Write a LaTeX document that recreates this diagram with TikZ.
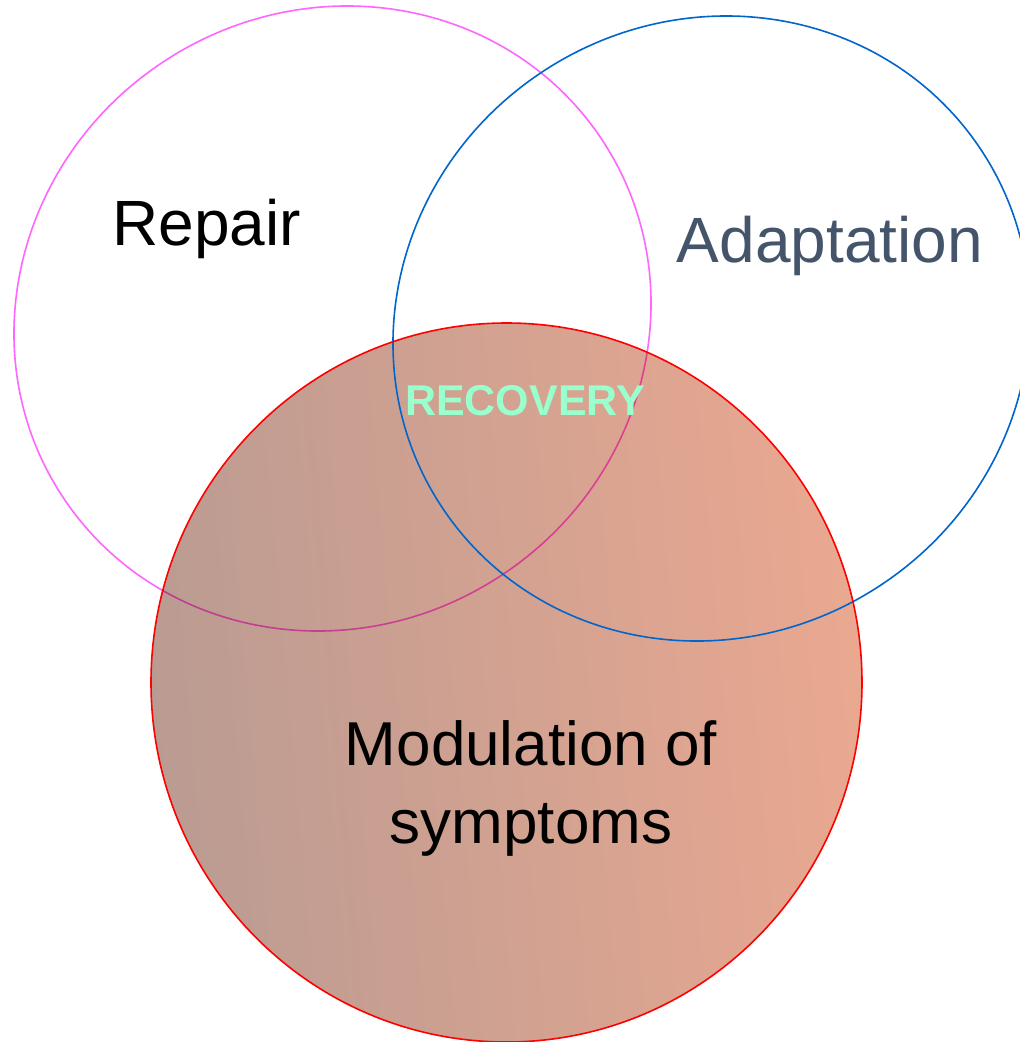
\documentclass[tikz,border=0pt]{standalone}
\usepackage{fontspec}
\setmainfont{Liberation Sans}
\definecolor{ringpink}{RGB}{255,102,255}
\definecolor{ringblue}{RGB}{0,102,204}
\definecolor{ringred}{RGB}{255,0,0}
\definecolor{fillleft}{RGB}{186,155,146}
\definecolor{fillright}{RGB}{234,168,144}
\definecolor{slate}{RGB}{68,84,106}
\definecolor{mint}{RGB}{153,255,204}
\tikzset{
  ring/.style={line width=1.6pt},
  tilted/.style={x radius=323.4pt, y radius=307.4pt},
  bigword/.style={font=\fontsize{64}{74}\selectfont, anchor=base, inner sep=0pt},
  midword/.style={font=\fontsize{62}{70}\selectfont, anchor=base, inner sep=0pt},
}
\begin{document}
\begin{tikzpicture}[x=1pt,y=-1pt]
  \useasboundingbox (0,0) rectangle (1020,1042);
  \fill[white] (0,0) rectangle (1020,1042);

  % shaded disc for the symptom circle
  \shade[left color=fillleft, right color=fillright, shading angle=95]
    (506.5,682.5) ellipse [x radius=355.5pt, y radius=359.5pt];

  % repair ring, multiplied over the shaded disc
  \begin{scope}[blend mode=multiply]
    \draw[ring, ringpink, rotate around={34:(332.5,318.5)}]
      (332.5,318.5) ellipse [tilted];
  \end{scope}
  % adaptation ring
  \draw[ring, ringblue, rotate around={34:(711.5,328.5)}]
    (711.5,328.5) ellipse [tilted];
  % outline of the symptom circle
  \draw[ring, ringred] (506.5,682.5) ellipse [x radius=355.5pt, y radius=359.5pt];

  % labels
  \node[bigword] (repair) at (206.5,245) {Repair};
  \node[bigword, text=slate] (adapt) at (830,262) {Adaptation};
  \node[anchor=base, inner sep=0pt, text=mint, font=\fontsize{43}{50}\selectfont\bfseries]
    (recovery) at (525,415) {RECOVERY};
  \node[midword] (modline) at (531,765) {Modulation of};
  \node[midword] (symline) at (531,843) {symptoms};
\end{tikzpicture}
\end{document}
